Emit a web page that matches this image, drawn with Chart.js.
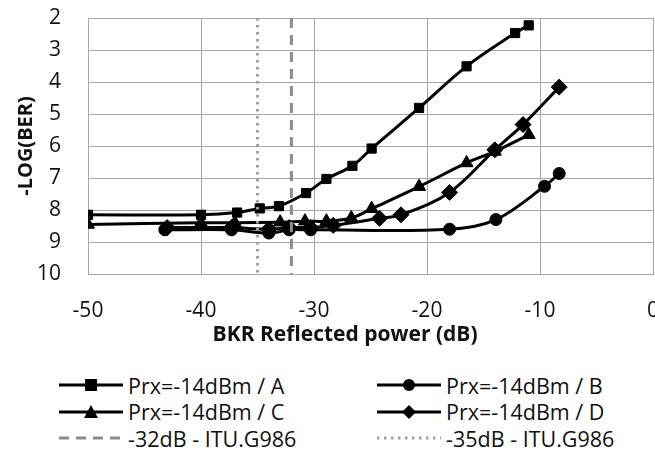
<!DOCTYPE html>
<html>
<head>
<meta charset="utf-8">
<script src="https://cdn.jsdelivr.net/npm/chart.js@4/dist/chart.umd.min.js"></script>
<style>
  html, body { margin: 0; padding: 0; background: #fff; overflow: hidden; width: 655px; height: 453px; }
  #c { position: absolute; left: 0; top: 0; }
  #legend { position: absolute; left: 0; top: 372px; width: 655px; font-family: "Open Sans", Lato, sans-serif; font-size: 21.5px; color: #111; }
  .item { position: absolute; height: 26px; display: flex; align-items: center; white-space: nowrap; }
  .item svg { margin-right: 5px; }
</style>
</head>
<body>
<canvas id="c" width="662" height="350"></canvas>
<div id="legend"></div>
<script>
// ---- data ----
const seriesNames = ["Prx=-14dBm / A", "Prx=-14dBm / B", "Prx=-14dBm / C", "Prx=-14dBm / D"];
const refNames = ["-32dB - ITU.G986", "-35dB - ITU.G986"];

const seriesA = [[-50,8.15],[-40,8.15],[-36.8,8.08],[-34.8,7.95],[-33.1,7.88],[-30.7,7.47],[-28.9,7.03],[-26.6,6.62],[-24.9,6.08],[-20.7,4.81],[-16.5,3.51],[-12.2,2.47],[-11,2.23]];
const seriesB = [[-43.2,8.62],[-37.3,8.62],[-34,8.72],[-32.2,8.62],[-30.3,8.62],[-18,8.6],[-13.9,8.3],[-9.6,7.26],[-8.3,6.86]];
const seriesC = [[-50,8.45],[-40,8.4],[-37,8.4],[-33,8.38],[-30.8,8.35],[-28.9,8.35],[-26.7,8.25],[-24.9,7.96],[-20.7,7.27],[-16.5,6.53],[-14,6.17],[-11,5.65]];
const seriesD = [[-43,8.55],[-37.3,8.55],[-34,8.6],[-32.2,8.55],[-30.3,8.55],[-28.3,8.48],[-24.2,8.26],[-22.3,8.15],[-18,7.45],[-14,6.12],[-11.5,5.33],[-8.3,4.16]];
const ref32 = [[-32,2],[-32,10]];
const ref35 = [[-35,2],[-35,10]];

const xTicks = [-50,-40,-30,-20,-10,0];
const yTicks = [2,3,4,5,6,7,8,9,10];
const xTitle = "BKR Reflected power (dB)";
const yTitle = "-LOG(BER)";

// ---- build ----
const toPts = a => a.map(p => ({x: p[0], y: p[1]}));
const FONT = '"Open Sans", Lato, sans-serif';
const markers = ['rect','circle','triangle','rectRot'];
const radii = [6.5, 6, 7.5, 8];
const seriesData = [seriesA, seriesB, seriesC, seriesD];

const datasets = seriesData.map((d, i) => ({
  label: seriesNames[i],
  data: toPts(d),
  borderColor: '#000',
  backgroundColor: '#000',
  borderWidth: 3,
  pointStyle: markers[i],
  pointRadius: radii[i],
  pointBackgroundColor: '#000',
  pointBorderColor: '#000',
  pointBorderWidth: 1,
  tension: 0.35,
  order: 2
}));
datasets.push({
  label: refNames[0], data: toPts(ref32), borderColor: '#8c8c8c', borderWidth: 3,
  borderDash: [10, 7], pointRadius: 0, tension: 0, order: 1
});
datasets.push({
  label: refNames[1], data: toPts(ref35), borderColor: '#a0a0a0', borderWidth: 3,
  borderDash: [2.5, 4.5], pointRadius: 0, tension: 0, order: 1
});

// x-axis title drawn slightly left of the plot centre, as in the original layout
const xTitlePlugin = {
  id: 'xTitlePlugin',
  afterDraw(chart) {
    const ctx = chart.ctx, a = chart.chartArea;
    ctx.save();
    ctx.font = 'bold 21px ' + FONT;
    ctx.fillStyle = '#111';
    ctx.textAlign = 'center';
    ctx.textBaseline = 'middle';
    ctx.fillText(xTitle, a.left + a.width * 0.455, a.bottom + 61);
    ctx.restore();
  }
};

new Chart(document.getElementById('c'), {
  type: 'line',
  data: { datasets },
  plugins: [xTitlePlugin],
  options: {
    responsive: false,
    animation: false,
    events: [],
    layout: { padding: { top: 18, right: 9, left: 0, bottom: 0 } },
    plugins: { legend: { display: false }, tooltip: { enabled: false } },
    scales: {
      x: {
        type: 'linear', min: -50, max: 0,
        afterBuildTicks: s => { s.ticks = xTicks.map(v => ({value: v})); },
        afterFit: s => { s.height = 76; },
        grid: { color: '#a6a6a6', lineWidth: 1, drawTicks: true, tickLength: 23, tickColor: 'rgba(0,0,0,0)' },
        border: { color: '#a6a6a6' },
        ticks: { color: '#111', font: { family: FONT, size: 21 }, padding: 1, maxRotation: 0 },
        title: { display: false, text: xTitle }
      },
      y: {
        type: 'linear', min: 2, max: 10, reverse: true,
        afterBuildTicks: s => { s.ticks = yTicks.map(v => ({value: v})); },
        afterFit: s => { s.width = 88; },
        grid: { color: '#a6a6a6', lineWidth: 1, drawTicks: true, tickLength: 22, tickColor: 'rgba(0,0,0,0)' },
        border: { color: '#a6a6a6' },
        ticks: { color: '#111', font: { family: FONT, size: 21 }, padding: 5 },
        title: { display: true, text: yTitle, color: '#111', font: { family: FONT, size: 20, weight: 'bold' }, padding: { top: 14, bottom: 6 } }
      }
    }
  }
});

// ---- HTML legend ----
function sample(i) {
  const w = 66, h = 22, cy = 11, cx = 34;
  if (i === 4) return `<svg width="${w}" height="${h}"><line x1="2" y1="${cy}" x2="${w}" y2="${cy}" stroke="#8c8c8c" stroke-width="3" stroke-dasharray="10 7"/></svg>`;
  if (i === 5) return `<svg width="${w}" height="${h}"><line x1="2" y1="${cy}" x2="${w}" y2="${cy}" stroke="#a0a0a0" stroke-width="3" stroke-dasharray="2.5 4.5"/></svg>`;
  let m = '';
  if (i === 0) m = `<rect x="${cx-6}" y="${cy-6}" width="12" height="12" fill="#000"/>`;
  if (i === 1) m = `<circle cx="${cx}" cy="${cy}" r="6" fill="#000"/>`;
  if (i === 2) m = `<polygon points="${cx},${cy-7} ${cx+7},${cy+6} ${cx-7},${cy+6}" fill="#000"/>`;
  if (i === 3) m = `<polygon points="${cx},${cy-7} ${cx+7},${cy} ${cx},${cy+7} ${cx-7},${cy}" fill="#000"/>`;
  return `<svg width="${w}" height="${h}"><line x1="2" y1="${cy}" x2="${w}" y2="${cy}" stroke="#000" stroke-width="3"/>${m}</svg>`;
}
const allNames = seriesNames.concat(refNames);
const leg = document.getElementById('legend');
allNames.forEach((name, i) => {
  const col = i % 2, row = Math.floor(i / 2);
  const d = document.createElement('div');
  d.className = 'item';
  d.style.left = (col === 0 ? 57 : 375) + 'px';
  d.style.top = (row * 26.5) + 'px';
  d.innerHTML = sample(i) + '<span></span>';
  d.querySelector('span').textContent = name;
  leg.appendChild(d);
});
</script>
</body>
</html>
